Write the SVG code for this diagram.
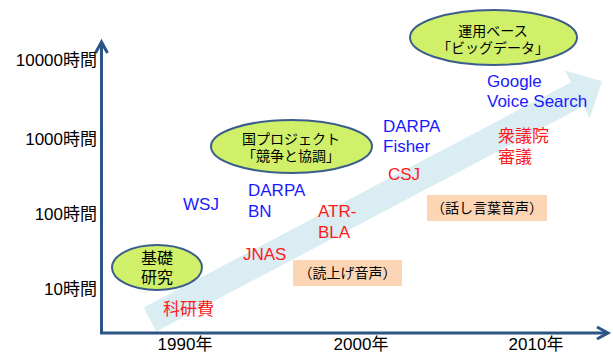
<svg xmlns="http://www.w3.org/2000/svg" width="613" height="354" viewBox="0 0 613 354">
<defs>
<style>
text{font-family:"Liberation Sans","Noto Sans CJK JP",sans-serif;}
.ax{font-size:17px;fill:#000;}
.bl{font-size:17px;fill:#1a1aff;}
.rd{font-size:17px;fill:#ff1a1a;}
.el{fill:#d0f06a;stroke:#3b5d8c;stroke-width:2;}
.eltx{font-size:14px;fill:#000;text-anchor:middle;}
.box{fill:#fcd5b4;}
.boxtx{font-size:14px;fill:#000;text-anchor:middle;}
.axis{stroke:#2c5485;stroke-width:3;fill:none;}
</style>
</defs>
<g id="trend-arrow">
<polygon points="0,-13.5 483,-13.5 483,-27 511,0 483,27 483,13.5 0,13.5" fill="#daedf3" transform="translate(150,319.5) rotate(-27.8)"/>
</g>
<g id="connectors">
<path class="axis" d="M101.5,333 V43"/>
<path class="axis" d="M95.5,53 L101.5,42 L107.5,53"/>
<path class="axis" d="M100,333 H607"/>
<path class="axis" d="M597,327 L608,333 L597,339"/>
</g>
<g id="y-labels" class="ax" text-anchor="end">
<text x="97" y="66" class="ax">10000時間</text>
<text x="97" y="145" class="ax">1000時間</text>
<text x="97" y="220" class="ax">100時間</text>
<text x="97" y="295" class="ax">10時間</text>
</g>
<g id="x-labels" text-anchor="middle">
<text x="185" y="350" class="ax">1990年</text>
<text x="361" y="350" class="ax">2000年</text>
<text x="536" y="350" class="ax">2010年</text>
</g>
<g id="node-kiso">
<ellipse class="el" cx="157" cy="267.5" rx="45" ry="22.5"/>
<text class="eltx" x="157" y="264" style="font-size:16px">基礎</text>
<text class="eltx" x="157" y="283" style="font-size:16px">研究</text>
</g>
<g id="node-kokupro">
<ellipse class="el" cx="291.5" cy="146.5" rx="80.5" ry="26.5"/>
<text class="eltx" x="291" y="144">国プロジェクト</text>
<text class="eltx" x="291" y="161">「競争と協調」</text>
</g>
<g id="node-unyou">
<ellipse class="el" cx="493.5" cy="37.5" rx="83.5" ry="27.5"/>
<text class="eltx" x="493" y="36">運用ベース</text>
<text class="eltx" x="493" y="53">「ビッグデータ」</text>
</g>
<g id="node-wsj"><text class="bl" x="183" y="210">WSJ</text></g>
<g id="node-darpa-bn"><text class="bl" x="248" y="196">DARPA</text><text class="bl" x="248" y="217">BN</text></g>
<g id="node-darpa-fisher"><text class="bl" x="383" y="132">DARPA</text><text class="bl" x="383" y="152">Fisher</text></g>
<g id="node-google"><text class="bl" x="487" y="87">Google</text><text class="bl" x="487" y="107">Voice Search</text></g>
<g id="node-kakenhi"><text class="rd" x="163" y="315">科研費</text></g>
<g id="node-jnas"><text class="rd" x="243" y="260">JNAS</text></g>
<g id="node-atr"><text class="rd" x="318" y="217">ATR-</text><text class="rd" x="318" y="238">BLA</text></g>
<g id="node-csj"><text class="rd" x="388" y="180">CSJ</text></g>
<g id="node-shugiin"><text class="rd" x="498" y="142">衆議院</text><text class="rd" x="498" y="163">審議</text></g>
<g id="node-yomiage">
<rect class="box" x="293" y="260" width="109" height="26"/>
<text class="boxtx" x="347.5" y="278">（読上げ音声）</text>
</g>
<g id="node-hanashi">
<rect class="box" x="427" y="195" width="120" height="26"/>
<text class="boxtx" x="487" y="213">（話し言葉音声）</text>
</g>
</svg>
